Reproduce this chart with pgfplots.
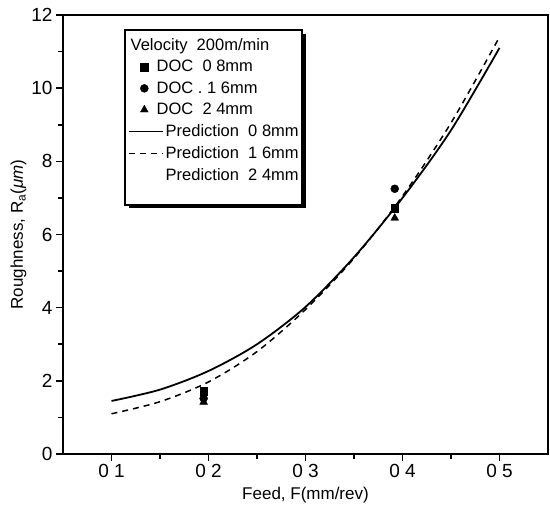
\documentclass[border=0pt]{standalone}
\usepackage{pgfplots}
\pgfplotsset{compat=1.18}
\usepackage{fontspec}
\setmainfont{Liberation Sans}

\pgfplotsset{
  longline/.style={legend image code/.code={\draw[##1] (-0.25cm,0cm) -- (0.95cm,0cm);}},
}

\begin{document}
\begin{tikzpicture}
\begin{axis}[
    scale only axis, width=485pt, height=439pt,
    xmin=0.05, xmax=0.55, ymin=0, ymax=12,
    xtick={0.1,0.2,0.3,0.4,0.5},
    xticklabels={0 1,0 2,0 3,0 4,0 5},
    ytick={0,2,4,6,8,10,12},
    minor x tick num=1, minor y tick num=1,
    xtick pos=bottom, ytick pos=left, tick align=outside,
    major tick length=7pt, minor tick length=5pt,
    axis line style={line width=2pt},
    every tick/.style={black, line width=1.6pt},
    /pgf/number format/assume math mode=true,
    ticklabel style={font=\fontsize{19}{21}\selectfont},
    label style={font=\fontsize{17}{19}\selectfont},
    xlabel={Feed, F(mm/rev)},
    ylabel={Roughness, R\textsubscript{a}(\textit{μm})},
    xlabel style={yshift=-2pt},
    ylabel style={yshift=-2pt},
    legend cell align=left,
    legend style={at={(rel axis cs:0.128,0.957)}, anchor=north west,
        draw=none, fill=none,
        font=\fontsize{16.5}{18}\selectfont, row sep=4.4pt, inner sep=2.5pt},
]
\coordinate (sw) at (rel axis cs:0,0);
\coordinate (ne) at (rel axis cs:1,1);
% legend frame with its dark shadow
\draw[line width=3pt] (rel axis cs:0.497,0.957) -- (rel axis cs:0.497,0.563) -- (rel axis cs:0.136,0.563);
\draw[line width=1.3pt, fill=white] (rel axis cs:0.128,0.567) rectangle (rel axis cs:0.493,0.966);

\addlegendimage{empty legend}
\addlegendentry{\hspace*{-35pt}Velocity\ \ 200m/min}

\addplot[only marks, mark=square*, mark size=3.8pt, black] coordinates {(0.195,1.72) (0.392,6.72)};
\addlegendentry{\hspace*{-9pt}DOC\ \ 0 8mm}
\addplot[only marks, mark=*, mark size=4pt, black] coordinates {(0.195,1.52) (0.392,7.25)};
\addlegendentry{\hspace*{-9pt}DOC . 1 6mm}
\addplot[only marks, mark=triangle*, mark size=4.5pt, black] coordinates {(0.195,1.42) (0.392,6.45)};
\addlegendentry{\hspace*{-9pt}DOC\ \ 2 4mm}

\addplot[black, line width=1.8pt, smooth, longline] coordinates {
  (0.10,1.45) (0.15,1.76) (0.20,2.27) (0.25,3.0) (0.30,4.02)
  (0.35,5.38) (0.40,7.0) (0.45,8.85) (0.50,11.1)};
\addlegendentry{Prediction\ \ 0 8mm}
\addplot[black, line width=1.5pt, dash pattern=on 6pt off 5pt, smooth, longline] coordinates {
  (0.10,1.1) (0.15,1.43) (0.20,1.97) (0.25,2.8) (0.30,3.95)
  (0.35,5.35) (0.40,7.05) (0.45,9.05) (0.50,11.4)};
\addlegendentry{Prediction\ \ 1 6mm}
\addlegendimage{legend image code/.code={}}
\addlegendentry{Prediction\ \ 2 4mm}
\end{axis}
\pgfresetboundingbox
\path ([shift={(-63pt,-69pt)}]sw) rectangle ([shift={(2pt,15pt)}]ne);
\end{tikzpicture}
\end{document}
